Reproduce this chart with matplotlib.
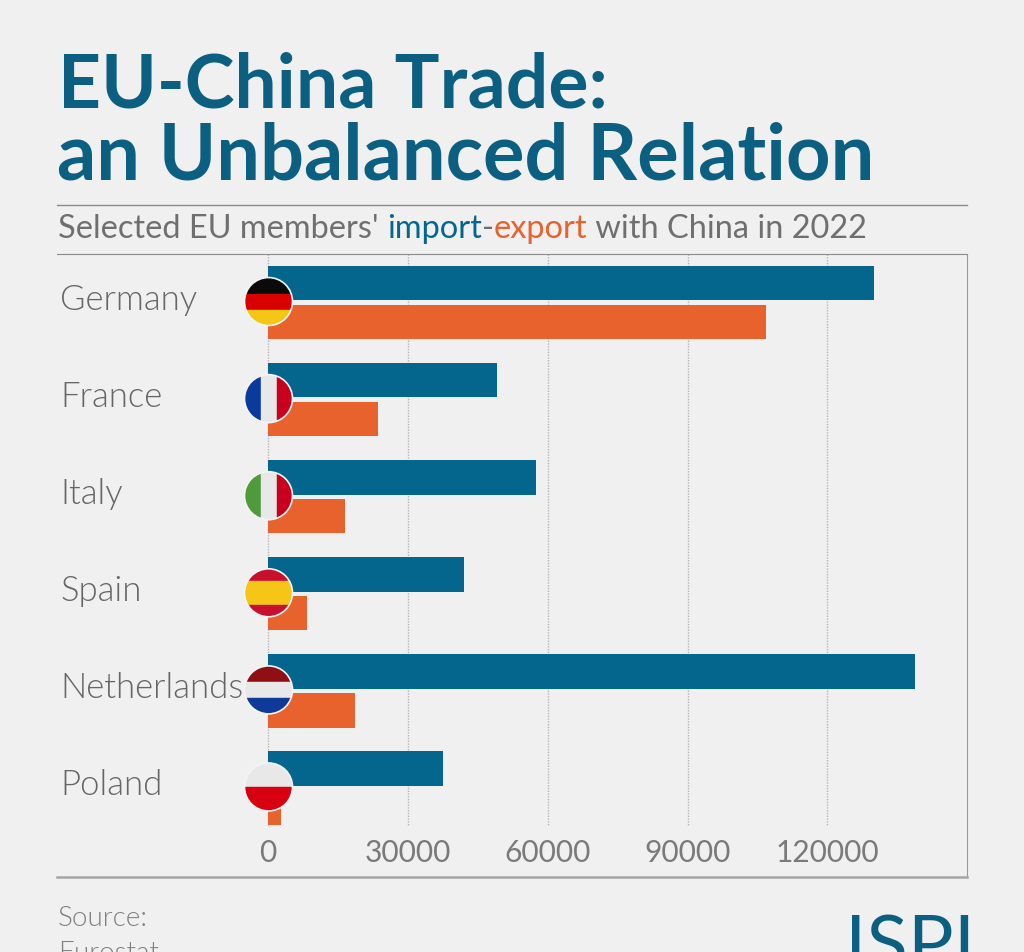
import matplotlib
matplotlib.use("Agg")
import matplotlib.pyplot as plt
import numpy as np
from matplotlib.lines import Line2D
from matplotlib.patches import Circle, Rectangle

countries = ["Germany", "France", "Italy", "Spain", "Netherlands", "Poland"]
imports = [130000, 49200, 57500, 42100, 138700, 37600]
exports = [106800, 23700, 16600, 8500, 18750, 2900]
ticks = [0, 30000, 60000, 90000, 120000]

BLUE = "#05668d"
ORANGE = "#e8622d"
GREY = "#6f6f6f"
BG = "#f0f0f0"
W, H = 1024, 952

# stripes of each flag, (orientation, colours)
flags = {
    "Germany": ("h", ["#0a0a0a", "#d80000", "#f5c518"]),
    "France": ("v", ["#0a3a9c", "#e8e8e8", "#c8001e"]),
    "Italy": ("v", ["#4f9a3a", "#e8e8e8", "#c8001e"]),
    "Spain": ("h", ["#c8102e", "#f5c518", "#f5c518", "#c8102e"]),
    "Netherlands": ("h", ["#8f0f14", "#e8e8e8", "#0f3a9a"]),
    "Poland": ("h", ["#e8e8e8", "#d80010"]),
}

plt.rcParams["font.family"] = ["Lato", "DejaVu Sans"]
fig = plt.figure(figsize=(W / 100, H / 100), dpi=100, facecolor=BG)


def px_text(x, y, s, **kw):
    return fig.text(x / W, 1 - y / H, s, va="baseline", ha="left", **kw)


def text_width(s, **kw):
    r = fig.canvas.get_renderer()
    a = px_text(0, 0, "|" + s + "|", **kw)
    b = px_text(0, 0, "||", **kw)
    w = a.get_window_extent(r).width - b.get_window_extent(r).width
    a.remove()
    b.remove()
    return w


# title block
px_text(58, 107, "EU-China Trade:", fontsize=54, fontweight="bold", color="#0b5f80")
px_text(57, 180, "an Unbalanced Relation", fontsize=55.8, fontweight="bold", color="#0b5f80")
fig.add_artist(Line2D([57 / W, 967 / W], [1 - 205 / H] * 2, color="#8a8a8a", lw=1))

x = 58
for part, col in [("Selected EU members' ", GREY), ("import", BLUE), ("-", GREY),
                  ("export", ORANGE), (" with China in 2022", GREY)]:
    px_text(x, 238, part, fontsize=23.4, color=col)
    x += text_width(part, fontsize=23.4)

# main chart
ax = fig.add_axes([57 / W, 1 - 877 / H, 910 / W, 623 / H], facecolor="none")
pos = np.arange(len(countries))
ax.barh(pos - 0.2, imports, height=0.355, color=BLUE, zorder=3)
ax.barh(pos + 0.2, exports, height=0.355, color=ORANGE, zorder=3)
ax.vlines(ticks, -0.5, 5.385, color="#b5b5b5", lw=1, linestyles=(0, (1, 1)), zorder=1)
ax.set_xlim(-210.5 * 30000 / 140, 699.5 * 30000 / 140)
ax.set_ylim(5.917, -0.5)

ax.set_xticks(ticks)
ax.set_xticklabels([str(t) for t in ticks], fontsize=21.5, color="#7a7a7a")
ax.tick_params(axis="x", length=0, pad=-27)
ax.set_yticks(pos - 0.06)
ax.set_yticklabels(countries, fontsize=25, fontweight=300, color="#666666", ha="left")
ax.tick_params(axis="y", length=0, pad=-2.2)

ax.spines["left"].set_visible(False)
ax.spines["top"].set_color("#8a8a8a")
ax.spines["right"].set_color("#9a9a9a")
ax.spines["bottom"].set_color("#a5a5a5")
ax.spines["bottom"].set_linewidth(1.8)

# flags on a pixel overlay
ov = fig.add_axes([0, 0, 1, 1], facecolor="none")
ov.set_xlim(0, W)
ov.set_ylim(H, 0)
ov.axis("off")
R = 24
fig.canvas.draw()
for i, name in enumerate(countries):
    cx, cy = ax.transData.transform((0, i))
    cx, cy = cx + 1, H - cy - 1
    kind, cols = flags[name]
    disc = Circle((cx, cy), R, transform=ov.transData, fc="none", ec="none")
    ov.add_patch(disc)
    n = len(cols)
    for j, c in enumerate(cols):
        if kind == "h":
            st = Rectangle((cx - R, cy - R + 2 * R * j / n), 2 * R, 2 * R / n, fc=c, ec=c, lw=0.3, zorder=4)
        else:
            st = Rectangle((cx - R + 2 * R * j / n, cy - R), 2 * R / n, 2 * R, fc=c, ec=c, lw=0.3, zorder=4)
        ov.add_patch(st)
        st.set_clip_path(disc)
    ov.add_patch(Circle((cx, cy), R, fc="none", ec="#f4f4f4", lw=1.2, zorder=5))

# footer, cut off by the bottom edge as in the source image
px_text(58, 926, "Source:", fontsize=20, fontweight=300, color="#808080")
px_text(58, 961, "Eurostat", fontsize=20, fontweight=300, color="#808080")
px_text(845, 970, "ISPI", fontsize=55, color="#0b5f80")

fig.savefig("out.png", dpi=100, facecolor=BG)
